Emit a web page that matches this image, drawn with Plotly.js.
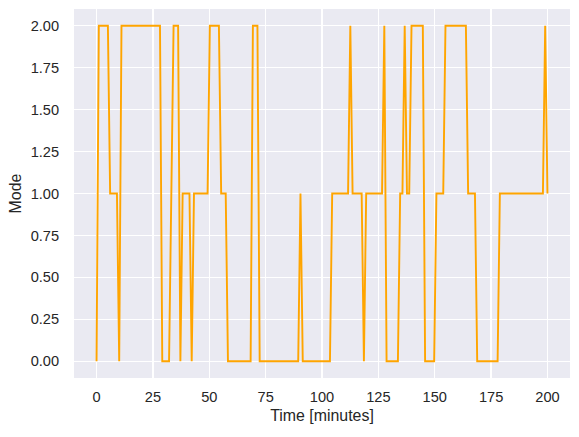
<!DOCTYPE html>
<html>
<head>
<meta charset="utf-8">
<script src="https://cdn.plot.ly/plotly-3.0.1.min.js"></script>
<style>html,body{margin:0;padding:0;background:#fff;}#chart{width:579px;height:437px;}</style>
</head>
<body>
<div id="chart"></div>
<script>
// Time [minutes] at each corner of the mode trace (flat runs between corners)
var timeMinutes = [0, 1.01, 5.03, 6.03, 9.05, 10.05, 11.06, 28.14, 29.15, 32.16, 33.17, 34.17,
  36.18, 37.19, 38.19, 41.21, 42.21, 43.22, 49.25, 50.25, 54.27, 55.28, 57.29, 58.29,
  68.34, 69.35, 71.36, 72.36, 89.45, 90.45, 91.46, 103.52, 104.52, 111.56, 112.56, 113.57,
  117.59, 118.59, 119.60, 126.63, 127.64, 128.64, 133.67, 134.67, 135.68, 136.68, 137.69,
  138.69, 139.70, 144.72, 145.73, 149.75, 150.75, 153.77, 154.77, 163.82, 164.82, 167.84,
  168.84, 177.89, 178.89, 197.99, 198.99, 200];
var modeValues = [0, 2, 2, 1, 1, 0, 2, 2, 0, 0, 1, 2,
  2, 0, 1, 1, 0, 1, 1, 2, 2, 1, 1, 0,
  0, 2, 2, 0, 0, 1, 0, 0, 1, 1, 2, 1,
  1, 0, 1, 1, 2, 0, 0, 1, 1, 2, 1,
  1, 2, 2, 0, 0, 1, 1, 2, 2, 1, 1,
  0, 0, 1, 1, 2, 1];
var xTickVals = [0, 25, 50, 75, 100, 125, 150, 175, 200];
var yTickVals = [0, 0.25, 0.5, 0.75, 1.0, 1.25, 1.5, 1.75, 2.0];
var xLabel = 'Time [minutes]';
var yLabel = 'Mode';

var fontFam = 'Liberation Sans, Arial, DejaVu Sans, sans-serif';
var trace = {
  x: timeMinutes,
  y: modeValues,
  type: 'scatter',
  mode: 'lines',
  line: {color: '#FFA500', width: 1.9},
  hoverinfo: 'none'
};
var layout = {
  width: 579, height: 437,
  margin: {l: 74, r: 9, t: 9, b: 59, pad: 0},
  paper_bgcolor: '#ffffff',
  plot_bgcolor: '#EAEAF2',
  showlegend: false,
  font: {family: fontFam, color: '#262626', size: 14.6},
  xaxis: {
    range: [-10, 210],
    tickvals: xTickVals,
    ticktext: xTickVals.map(String),
    showgrid: true, gridcolor: '#ffffff', gridwidth: 1.2,
    zeroline: false, showline: false,
    ticks: 'outside', ticklen: 5.5, tickcolor: 'rgba(0,0,0,0)',
    tickfont: {family: fontFam, size: 14.6, color: '#262626'},
    title: {text: xLabel, font: {family: fontFam, size: 15.9, color: '#262626'}, standoff: 5},
    automargin: false
  },
  yaxis: {
    range: [-0.1, 2.1],
    tickvals: yTickVals,
    ticktext: yTickVals.map(function(v){return v.toFixed(2);}),
    showgrid: true, gridcolor: '#ffffff', gridwidth: 1.2,
    zeroline: false, showline: false,
    ticks: 'outside', ticklen: 11, tickcolor: 'rgba(0,0,0,0)',
    tickfont: {family: fontFam, size: 14.6, color: '#262626'},
    title: {text: yLabel, font: {family: fontFam, size: 15.9, color: '#262626'}, standoff: 5},
    automargin: false
  }
};
Plotly.newPlot('chart', [trace], layout, {displayModeBar: false, staticPlot: true});
</script>
</body>
</html>
